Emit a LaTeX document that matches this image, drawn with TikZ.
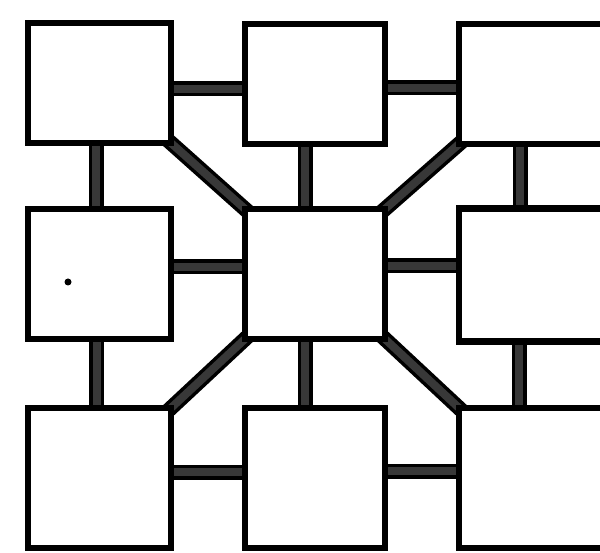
\documentclass[tikz,border=0pt]{standalone}
\usepackage{tikz}
\usetikzlibrary{backgrounds}

\tikzset{
  rum/.style={draw,fill=white,line width=6.5pt,outer sep=0pt,inner sep=0pt},
  gang/.style={line width=3.5pt,double=black!78,double distance=8pt,
    shorten <=-8pt,shorten >=-8pt},
}

\begin{document}
\begin{tikzpicture}[x=1pt,y=-1pt]
    % Billedets ramme, rummene til højre og nederst skæres af
    \useasboundingbox (0,0) rectangle (600,553);
    \clip (0,0) rectangle (600,553);
    % Øverste række af rum
    \node[rum,minimum width=143pt,minimum height=120pt] (tl) at (99.5,83) {};
    \node[rum,minimum width=140pt,minimum height=120pt] (tm) at (315,84) {};
    \node[rum,minimum width=241pt,minimum height=120pt] (tr) at (579.5,84) {};
    % Midterste række
    \node[rum,minimum width=143pt,minimum height=130pt] (ml) at (99.5,274) {};
    \node[rum,minimum width=140pt,minimum height=130pt] (c) at (315,274) {};
    \node[rum,minimum width=241pt,minimum height=133pt] (mr) at (579.5,275) {};
    % Nederste række
    \node[rum,minimum width=143pt,minimum height=140pt] (bl) at (99.5,478) {};
    \node[rum,minimum width=140pt,minimum height=140pt] (bm) at (315,478) {};
    \node[rum,minimum width=241pt,minimum height=140pt] (br) at (579.5,478) {};
    % Gange tegnes bag rummene, så enderne skjules
    \begin{pgfonlayer}{background}
      \draw[gang] ([yshift=-6pt]tl.east) -- ([yshift=-5pt]tm.west);
      \draw[gang] ([yshift=-4pt]tm.east) -- ([yshift=-4pt]tr.west);
      \draw[gang] ([yshift=7pt]ml.east) -- ([yshift=7pt]c.west);
      \draw[gang] ([yshift=8pt]c.east) -- ([yshift=9pt]mr.west);
      \draw[gang] ([yshift=6pt]bl.east) -- ([yshift=6pt]bm.west);
      \draw[gang] ([yshift=7pt]bm.east) -- ([yshift=7pt]br.west);
      \draw[gang] ([xshift=-3.5pt]tl.south) -- ([xshift=-3.5pt]ml.north);
      \draw[gang] ([xshift=-10pt]tm.south) -- ([xshift=-10pt]c.north);
      \draw[gang] ([xshift=61pt]tr.south west) -- ([xshift=61pt]mr.north west);
      \draw[gang] ([xshift=-3pt]ml.south) -- ([xshift=-3pt]bl.north);
      \draw[gang] ([xshift=-10pt]c.south) -- ([xshift=-10pt]bm.north);
      \draw[gang] ([xshift=60pt]mr.south west) -- ([xshift=60pt]br.north west);
      % Skrå gange fra midterrummets hjørner
      \draw[gang] (tl.south east) -- (c.north west);
      \draw[gang] (tr.south west) -- (c.north east);
      \draw[gang] (bl.north east) -- (c.south west);
      \draw[gang] (br.north west) -- (c.south east);
    \end{pgfonlayer}
    % Prikken i venstre rum
    \fill (68,282) circle (3.5pt);
  \end{tikzpicture}
\end{document}
